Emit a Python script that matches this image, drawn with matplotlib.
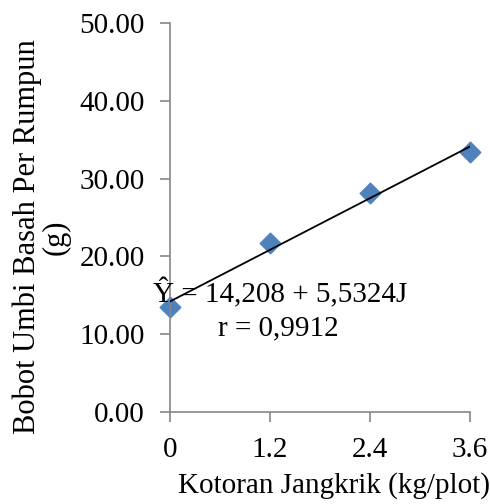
import matplotlib.pyplot as plt
import numpy as np

# data
dosis = [0, 1.2, 2.4, 3.6]
bobot = [13.5, 21.7, 28.1, 33.4]
intercept = 14.208
slope = 5.5324
yticks = [0, 10, 20, 30, 40, 50]
xticks = [0, 1.2, 2.4, 3.6]

plt.rcParams['font.family'] = ['Liberation Serif', 'DejaVu Serif']

fig = plt.figure(figsize=(4.9, 5.04), dpi=100)
ax = fig.add_axes([170 / 490, 1 - 412 / 504, 300 / 490, 389 / 504])

# trendline
xl = np.array([dosis[0], dosis[-1]])
ax.plot(xl, intercept + slope * xl, color='black', lw=1.3, zorder=3)
ax.scatter(dosis, bobot, marker='D', s=110, color='#4F81BD', zorder=2, clip_on=False)

ax.set_xlim(0, 3.6)
ax.set_ylim(0, 50)
ax.set_xticks(xticks)
ax.set_xticklabels(['0', '1.2', '2.4', '3.6'])
ax.set_yticks(yticks)
ax.set_yticklabels(['%.2f' % v for v in yticks])

for s in ['top', 'right']:
    ax.spines[s].set_visible(False)
for s in ['left', 'bottom']:
    ax.spines[s].set_color('#868686')
    ax.spines[s].set_linewidth(1.2)
ax.tick_params(axis='both', direction='out', length=7, width=1.2, color='#868686',
               labelsize=21, pad=11)

ax.text(0.367, 0.306, 'Ŷ = 14,208 + 5,5324J', transform=ax.transAxes,
        ha='center', va='center', fontsize=21)
ax.text(0.36, 0.216, 'r = 0,9912', transform=ax.transAxes,
        ha='center', va='center', fontsize=21)

ax.set_ylabel('Bobot Umbi Basah Per Rumpun\n(g)', fontsize=22, linespacing=1.0)
ax.yaxis.set_label_coords(-0.33, 0.45)
ax.set_xlabel('Kotoran Jangkrik (kg/plot)', fontsize=21)
ax.xaxis.set_label_coords(0.547, -0.155)

fig.savefig('out.png', dpi=100)
